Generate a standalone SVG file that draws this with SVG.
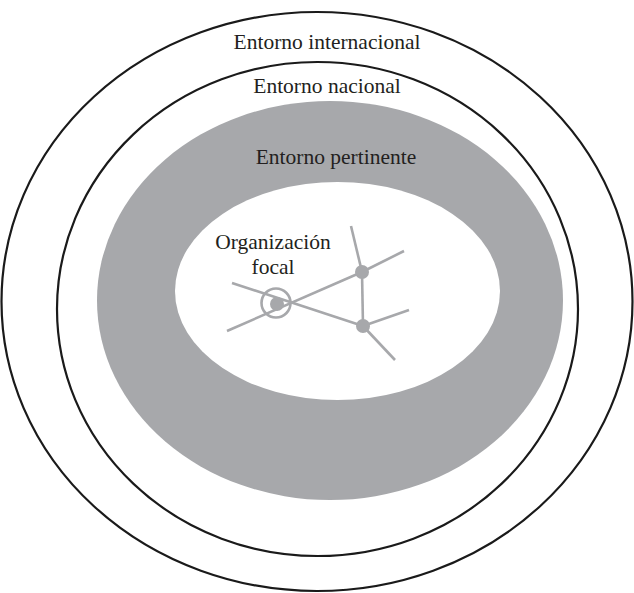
<svg xmlns="http://www.w3.org/2000/svg" width="634" height="593" viewBox="0 0 634 593">
<style>
.ring{fill:none;stroke:#1a1a1a;stroke-width:2.2}
.lbl{font-family:'Liberation Serif','Times New Roman',serif;font-size:21.5px;fill:#231f20;text-anchor:middle}
.net{stroke:#a7a8ab;stroke-width:2.6;fill:none}
.node{fill:#a7a8ab}
</style>
<rect width="634" height="593" fill="#ffffff"/>
<g id="international">
<ellipse class="ring" cx="317" cy="301.5" rx="315.5" ry="289.5"/>
<text class="lbl" x="327" y="49">Entorno internacional</text>
</g>
<g id="national">
<ellipse class="ring" cx="317.5" cy="309" rx="260.5" ry="247"/>
<text class="lbl" x="327" y="93">Entorno nacional</text>
</g>
<g id="pertinent">
<ellipse cx="330" cy="300.5" rx="233" ry="199.5" fill="#a7a8ab"/>
<text class="lbl" x="336" y="164">Entorno pertinente</text>
</g>
<g id="inner">
<ellipse cx="337.5" cy="291" rx="162.5" ry="109" fill="#ffffff"/>
</g>
<g id="connectors">
<line class="net" x1="232" y1="283" x2="363" y2="326"/>
<line class="net" x1="227" y1="331" x2="362" y2="272"/>
<line class="net" x1="362" y1="272" x2="351" y2="226"/>
<line class="net" x1="362" y1="272" x2="404" y2="251"/>
<line class="net" x1="362" y1="272" x2="363" y2="326"/>
<line class="net" x1="363" y1="326" x2="409" y2="310"/>
<line class="net" x1="363" y1="326" x2="395" y2="360"/>
</g>
<g id="focal">
<circle class="node" cx="277" cy="304" r="7"/>
<circle class="net" cx="276" cy="303" r="14.5"/>
<text class="lbl" x="273" y="249">Organización</text>
<text class="lbl" x="273" y="274">focal</text>
</g>
<g id="node2"><circle class="node" cx="362" cy="272" r="7"/></g>
<g id="node3"><circle class="node" cx="363" cy="326" r="7"/></g>
</svg>
